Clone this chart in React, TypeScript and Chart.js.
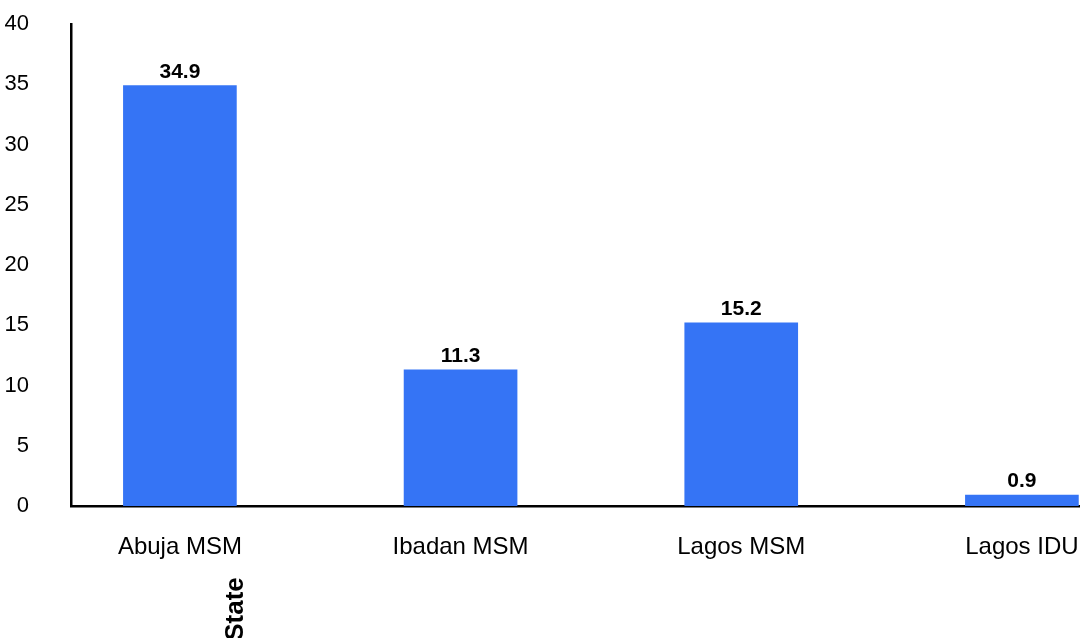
import React, { useEffect, useRef } from "react";
import { Chart, registerables } from "chart.js";

Chart.register(...registerables);

const categories = ["Abuja MSM", "Ibadan MSM", "Lagos MSM", "Lagos IDU"];
const values = [34.9, 11.3, 15.2, 0.9];
const yTicks = [0, 5, 10, 15, 20, 25, 30, 35, 40];
const xTitle = "State";

const FONT = "'Liberation Sans', Arial, sans-serif";

export default function App() {
  const ref = useRef<HTMLCanvasElement>(null);
  useEffect(() => {
    if (!ref.current) return;
    const labelsPlugin = {
      id: "valueLabels",
      afterDatasetsDraw(chart: any) {
        const ctx = chart.ctx;
        const meta = chart.getDatasetMeta(0);
        ctx.save();
        ctx.font = `bold 21px ${FONT}`;
        ctx.fillStyle = "#000";
        ctx.textAlign = "center";
        ctx.textBaseline = "bottom";
        meta.data.forEach((bar: any, i: number) => {
          ctx.fillText(String(values[i]), bar.x, bar.y - 3);
        });
        ctx.restore();
      },
    };
    const titlePlugin = {
      id: "rotTitle",
      afterDraw(chart: any) {
        const ctx = chart.ctx;
        ctx.save();
        ctx.translate(236, 609);
        ctx.rotate(-Math.PI / 2);
        ctx.font = `bold 26px ${FONT}`;
        ctx.fillStyle = "#000";
        ctx.textAlign = "center";
        ctx.textBaseline = "middle";
        ctx.fillText(xTitle, 0, 0);
        ctx.restore();
      },
    };
    const chart = new Chart(ref.current, {
      type: "bar",
      data: {
        datasets: [
          {
            data: values.map((v, i) => ({ x: i, y: v })),
            backgroundColor: "#3574F5",
            barThickness: 113,
          },
        ],
      },
      options: {
        animation: false,
        responsive: true,
        maintainAspectRatio: false,
        layout: { padding: { top: 24, right: 0, left: 0, bottom: 0 } },
        plugins: { legend: { display: false }, tooltip: { enabled: false } },
        scales: {
          x: {
            type: "linear",
            offset: false,
            min: -0.388,
            max: 3.207,
            grid: { display: false },
            border: { display: true, color: "#000", width: 2.5 },
            afterBuildTicks: (scale: any) => {
              scale.ticks = categories.map((_, i) => ({ value: i }));
            },
            afterFit: (scale: any) => {
              scale.height = 132;
              scale.paddingLeft = 0;
              scale.paddingRight = 0;
            },
            ticks: {
              autoSkip: false,
              maxRotation: 0,
              padding: 19,
              color: "#000",
              font: { family: FONT, size: 24 },
              callback: (v: any) => categories[v] ?? "",
            },
          },
          y: {
            min: 0,
            max: 40,
            grid: { display: false },
            border: { display: true, color: "#000", width: 2.5 },
            afterBuildTicks: (scale: any) => {
              scale.ticks = yTicks.map((v) => ({ value: v }));
            },
            afterFit: (scale: any) => {
              scale.width = 71;
              scale.paddingTop = 0;
              scale.paddingBottom = 0;
            },
            ticks: {
              padding: 34,
              color: "#000",
              font: { family: FONT, size: 22 },
            },
          },
        },
      },
      plugins: [labelsPlugin, titlePlugin],
    });
    return () => chart.destroy();
  }, []);
  return (
    <div style={{ position: "fixed", left: 0, top: 0, width: 1080, height: 638, background: "#fff" }}>
      <canvas ref={ref} />
    </div>
  );
}
